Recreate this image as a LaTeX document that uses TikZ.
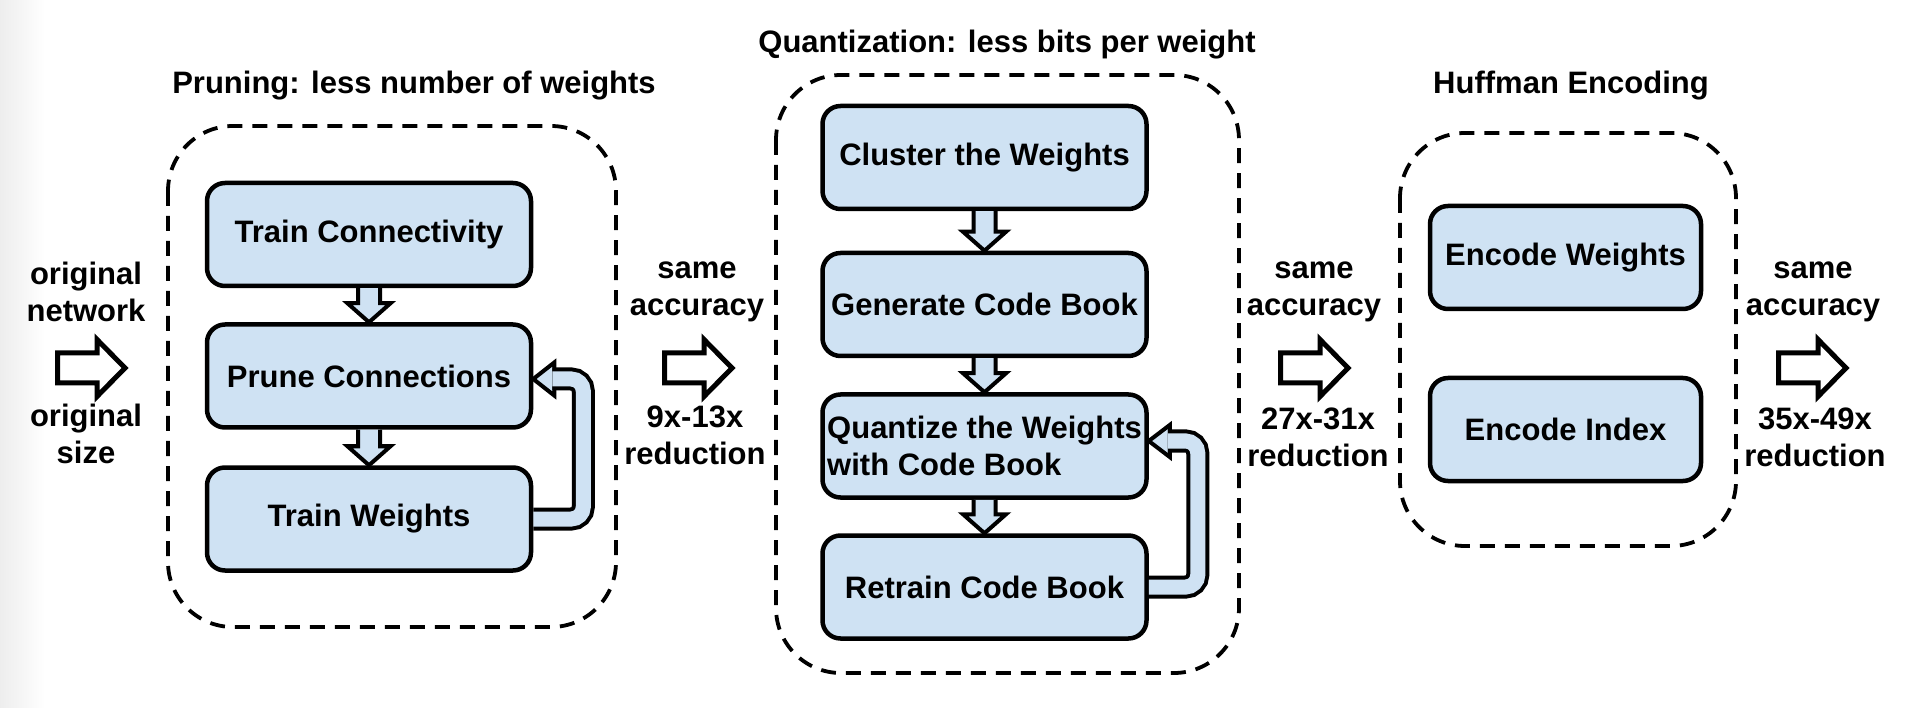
\documentclass[tikz,border=0pt]{standalone}
\usepackage{fontspec}
\setmainfont{Liberation Sans}
\usetikzlibrary{calc}

\definecolor{boxblue}{HTML}{CFE2F3}

\begin{document}
\begin{tikzpicture}[x=1pt, y=-1pt,
    every node/.style={font=\bfseries\fontsize{31}{37}\selectfont, align=center},
    stagebox/.style={draw, line width=4.5pt, fill=boxblue, rounded corners=18pt,
      minimum width=324pt, minimum height=103pt, inner sep=0pt},
    groupbox/.style={line width=3.8pt, dash pattern=on 15pt off 10pt, rounded corners=65pt},
    bigarrow/.style={draw, line width=5pt, fill=white},
    flowarrow/.style={draw, fill=boxblue, line width=4pt},
    loophead/.style={draw, fill=boxblue, line width=4pt},
    loopshaft/.style={line width=4pt, double=boxblue, double distance=15pt, rounded corners=12pt}]
    \useasboundingbox (0,0) rectangle (1920,708);
    \shade[left color=black!7, right color=white] (0,0) rectangle (45,708);

    % the three stages
    \draw[groupbox] (168,126) rectangle (616,627);
    \draw[groupbox] (776,75) rectangle (1239,673);
    \draw[groupbox] (1400,133) rectangle (1736,546);

    \node (prunetitle) at (414,86)   {Pruning: less number of weights};
    \node (quanttitle) at (1007,45)  {Quantization: less bits per weight};
    \node (hufftitle)  at (1571,86)  {Huffman Encoding};

    \node[stagebox] (tc) at (369,234.5) {Train Connectivity};
    \node[stagebox] (pc) at (369,376)   {Prune Connections};
    \node[stagebox] (tw) at (369,519)   {Train Weights};

    \node[stagebox] (cw) at (984.5,157.5) {Cluster the Weights};
    \node[stagebox] (gc) at (984.5,304.5) {Generate Code Book};
    \node[stagebox, align=left] (qw) at (984.5,446) {Quantize the Weights\\with Code Book};
    \node[stagebox] (rc) at (984.5,587)   {Retrain Code Book};

    \node[stagebox, minimum width=271pt] (ew) at (1565.5,257.5) {Encode Weights};
    \node[stagebox, minimum width=271pt] (ei) at (1565.5,429.5) {Encode Index};

    % arrows inside the stages
    \draw[flowarrow] ($(tc.south)+(-11,0)$) -- ($(pc.north)+(-11,-19)$) -- ($(pc.north)+(-21.5,-19)$) -- (pc.north) -- ($(pc.north)+(21.5,-19)$) -- ($(pc.north)+(11,-19)$) -- ($(tc.south)+(11,0)$);
    \draw[flowarrow] ($(pc.south)+(-11,0)$) -- ($(tw.north)+(-11,-19)$) -- ($(tw.north)+(-21.5,-19)$) -- (tw.north) -- ($(tw.north)+(21.5,-19)$) -- ($(tw.north)+(11,-19)$) -- ($(pc.south)+(11,0)$);
    \draw[flowarrow] ($(cw.south)+(-11,0)$) -- ($(gc.north)+(-11,-19)$) -- ($(gc.north)+(-21.5,-19)$) -- (gc.north) -- ($(gc.north)+(21.5,-19)$) -- ($(gc.north)+(11,-19)$) -- ($(cw.south)+(11,0)$);
    \draw[flowarrow] ($(gc.south)+(-11,0)$) -- ($(qw.north)+(-11,-19)$) -- ($(qw.north)+(-21.5,-19)$) -- (qw.north) -- ($(qw.north)+(21.5,-19)$) -- ($(qw.north)+(11,-19)$) -- ($(gc.south)+(11,0)$);
    \draw[flowarrow] ($(qw.south)+(-11,0)$) -- ($(rc.north)+(-11,-19)$) -- ($(rc.north)+(-21.5,-19)$) -- (rc.north) -- ($(rc.north)+(21.5,-19)$) -- ($(rc.north)+(11,-19)$) -- ($(qw.south)+(11,0)$);

    % retrain loops
    \draw[loophead] ($(pc.east)+(0,3)$) -- ++(21,-16.5) -- ++(0,33) -- cycle;
    \draw[loopshaft] (tw.east) -- ++(50,0) |- ($(pc.east)+(19,3)$);
    \draw[loophead] ($(qw.east)+(0,-5)$) -- ++(21,-16) -- ++(0,32) -- cycle;
    \draw[loopshaft] (rc.east) -- ++(49,0) |- ($(qw.east)+(19,-5)$);

    % sizes between the stages
    \node (orignet)  at (86,292)   {original\\network};
    \draw[bigarrow, shift={(55,368)}] (2.5,-15) -- (42,-15) -- (42,-28.5) -- (70,0) -- (42,28.5) -- (42,15) -- (2.5,15) -- cycle;
    \node (origsize) at (86,434)   {original\\size};

    \node (acc1) at (697,292)  {same\\accuracy};
    \draw[bigarrow, shift={(662,368)}] (2.5,-15) -- (42,-15) -- (42,-28.5) -- (70,0) -- (42,28.5) -- (42,15) -- (2.5,15) -- cycle;
    \node (red1) at (695,435)  {9x-13x\\reduction};

    \node (acc2) at (1314,292) {same\\accuracy};
    \draw[bigarrow, shift={(1278,368)}] (2.5,-15) -- (42,-15) -- (42,-28.5) -- (70,0) -- (42,28.5) -- (42,15) -- (2.5,15) -- cycle;
    \node (red2) at (1318,437) {27x-31x\\reduction};

    \node (acc3) at (1813,292) {same\\accuracy};
    \draw[bigarrow, shift={(1776,368)}] (2.5,-15) -- (42,-15) -- (42,-28.5) -- (70,0) -- (42,28.5) -- (42,15) -- (2.5,15) -- cycle;
    \node (red3) at (1815,437) {35x-49x\\reduction};
\end{tikzpicture}
\end{document}
